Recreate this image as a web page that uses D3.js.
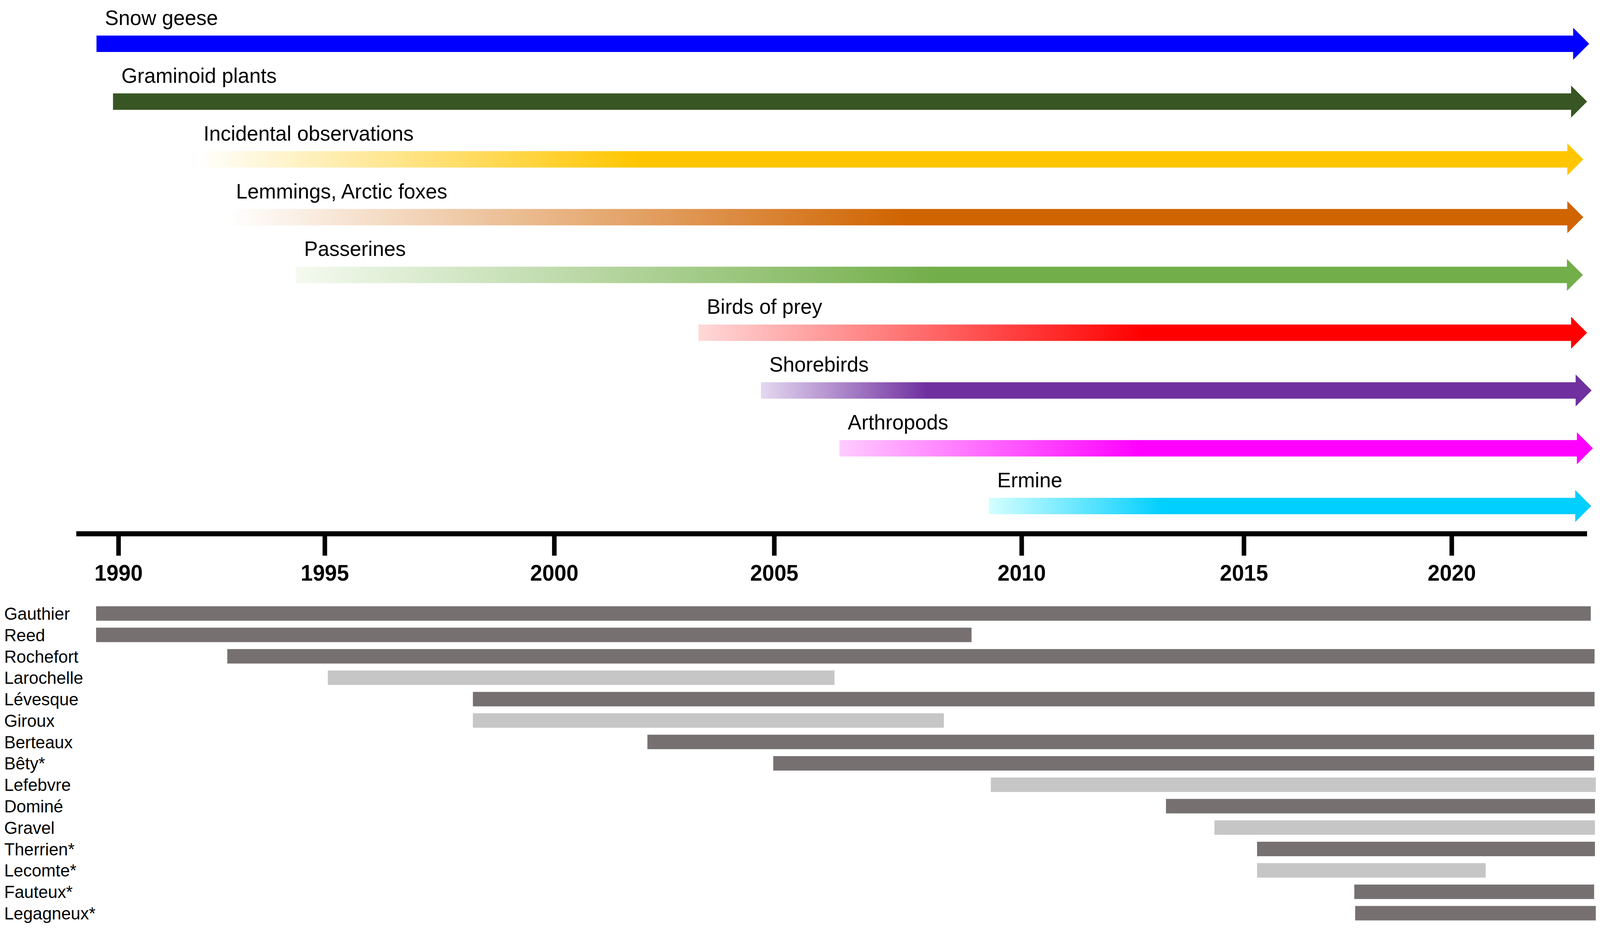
<!DOCTYPE html>
<html>
<head>
<meta charset="utf-8">
<script src="https://cdn.jsdelivr.net/npm/d3@7"></script>
<style>
  html, body { margin: 0; padding: 0; background: #fff; overflow: hidden; }
  svg { display: block; }
  text { font-family: "Liberation Sans", Arial, sans-serif; fill: #000; }
</style>
</head>
<body>
<div id="chart"></div>
<script>
// monitoring series (the arrows), start / end in years
const series = ["Snow geese", "Graminoid plants", "Incidental observations", "Lemmings, Arctic foxes",
  "Passerines", "Birds of prey", "Shorebirds", "Arthropods", "Ermine"];
const seriesStart = [1989.47, 1989.87, 1991.86, 1992.65, 1994.30, 2003.28, 2004.70, 2006.32, 2009.34];
const seriesEnd = [2023.31, 2023.26, 2023.17, 2023.17, 2023.16, 2023.26, 2023.37, 2023.40, 2023.36];

// researchers (the grey bars)
const people = ["Gauthier", "Reed", "Rochefort", "Larochelle", "Lévesque", "Giroux", "Berteaux", "Bêty*",
  "Lefebvre", "Dominé", "Gravel", "Therrien*", "Lecomte*", "Fauteux*", "Legagneux*"];
const peopleStart = [1989.46, 1989.46, 1992.64, 1995.07, 1998.23, 1998.23, 2002.12, 2004.98,
  2009.38, 2013.25, 2014.34, 2015.32, 2015.32, 2017.66, 2017.68];
const peopleEnd = [2023.35, 2008.99, 2023.44, 2006.22, 2023.44, 2008.43, 2023.43, 2023.43,
  2023.47, 2023.45, 2023.45, 2023.45, 2020.82, 2023.43, 2023.47];
const peopleGroup = [1, 1, 1, 2, 1, 2, 1, 1, 2, 1, 2, 1, 2, 1, 1];

const tickYears = [1990, 1995, 2000, 2005, 2010, 2015, 2020];
const axisExtent = [1988.98, 2023.26];

// arrow colours: [faded start, offset where full colour is reached, full colour]
const arrowFill = {
  "Snow geese": ["#0000ff", 0, "#0000ff"],
  "Graminoid plants": ["#375623", 0, "#375623"],
  "Incidental observations": ["#ffffff", 0.32, "#ffc600"],
  "Lemmings, Arctic foxes": ["#ffffff", 0.5, "#d06400"],
  "Passerines": ["#f4faf0", 0.5, "#72ae49"],
  "Birds of prey": ["#ffd8d8", 0.5, "#ff0000"],
  "Shorebirds": ["#e4d8f0", 0.2, "#7030a0"],
  "Arthropods": ["#ffccff", 0.4, "#ff00ff"],
  "Ermine": ["#d4ffff", 0.29, "#00cfff"]
};
const groupColor = {1: "#767070", 2: "#c6c6c6"};

const width = 4204, height = 2380;

// stretch the drawing over whatever the viewport really is
const svg = d3.select("#chart").append("svg")
  .attr("viewBox", "0 0 " + width + " " + height)
  .attr("preserveAspectRatio", "none")
  .style("width", "100vw")
  .style("height", "100vh");

// the original time axis is hand spaced, so the scale is piecewise
const x = d3.scaleLinear()
  .domain(tickYears)
  .range([311, 853, 1456, 2034, 2684, 3268, 3814]);

// arrows
const yArrow = d3.scalePoint().domain(series).range([112, 1295]);
const barH = 42, headOver = 20, headLen = 42;

const defs = svg.append("defs");
series.forEach((s, i) => {
  const f = arrowFill[s];
  const g = defs.append("linearGradient")
    .attr("id", "grad" + i)
    .attr("x1", "0%").attr("x2", "100%").attr("y1", "0%").attr("y2", "0%");
  g.append("stop").attr("offset", 0).attr("stop-color", f[0]);
  g.append("stop").attr("offset", f[1]).attr("stop-color", f[2]);
  g.append("stop").attr("offset", 1).attr("stop-color", f[2]);
});

const line = d3.line();
function arrowPath(d, i) {
  const x0 = x(seriesStart[i]), x1 = x(seriesEnd[i]), cy = yArrow(d);
  const t = cy - barH / 2, b = cy + barH / 2, hb = x1 - headLen;
  return line([[x0, t], [hb, t], [hb, t - headOver], [x1, cy],
    [hb, b + headOver], [hb, b], [x0, b]]) + "Z";
}

svg.selectAll(".arrow")
  .data(series)
  .enter().append("path")
    .attr("class", "arrow")
    .attr("d", arrowPath)
    .attr("fill", (d, i) => "url(#grad" + i + ")");

svg.selectAll(".arrow-label")
  .data(series)
  .enter().append("text")
    .attr("class", "arrow-label")
    .attr("x", (d, i) => x(seriesStart[i]) + 22)
    .attr("y", d => yArrow(d) - barH / 2 - 27)
    .attr("font-size", 54)
    .text(d => d);

// time axis
const axisY = 1366;
const axis = svg.append("g")
  .attr("transform", "translate(0," + axisY + ")")
  .call(d3.axisBottom(x)
    .tickValues(tickYears)
    .tickFormat(d3.format("d"))
    .tickSize(56)
    .tickSizeOuter(0)
    .tickPadding(24));

axis.select(".domain").remove();
axis.selectAll(".tick line")
  .attr("stroke", "#000")
  .attr("stroke-width", 12);
axis.selectAll(".tick text")
  .attr("font-size", 57)
  .attr("font-weight", "bold")
  .attr("font-family", "'Liberation Sans', Arial, sans-serif")
  .attr("fill", "#000");

axis.append("line")
  .attr("x1", x(axisExtent[0]))
  .attr("x2", x(axisExtent[1]))
  .attr("stroke", "#000")
  .attr("stroke-width", 13);

// researcher bars
const yPeople = d3.scalePoint().domain(people).range([1570, 2337]);
const personH = 37;

svg.selectAll(".person")
  .data(people)
  .enter().append("rect")
    .attr("class", "person")
    .attr("x", (d, i) => x(peopleStart[i]))
    .attr("width", (d, i) => x(peopleEnd[i]) - x(peopleStart[i]))
    .attr("y", d => yPeople(d) - personH / 2)
    .attr("height", personH)
    .attr("fill", (d, i) => groupColor[peopleGroup[i]]);

svg.selectAll(".person-label")
  .data(people)
  .enter().append("text")
    .attr("class", "person-label")
    .attr("x", 11)
    .attr("y", d => yPeople(d) + 16)
    .attr("font-size", 45)
    .text(d => d);
</script>
</body>
</html>
